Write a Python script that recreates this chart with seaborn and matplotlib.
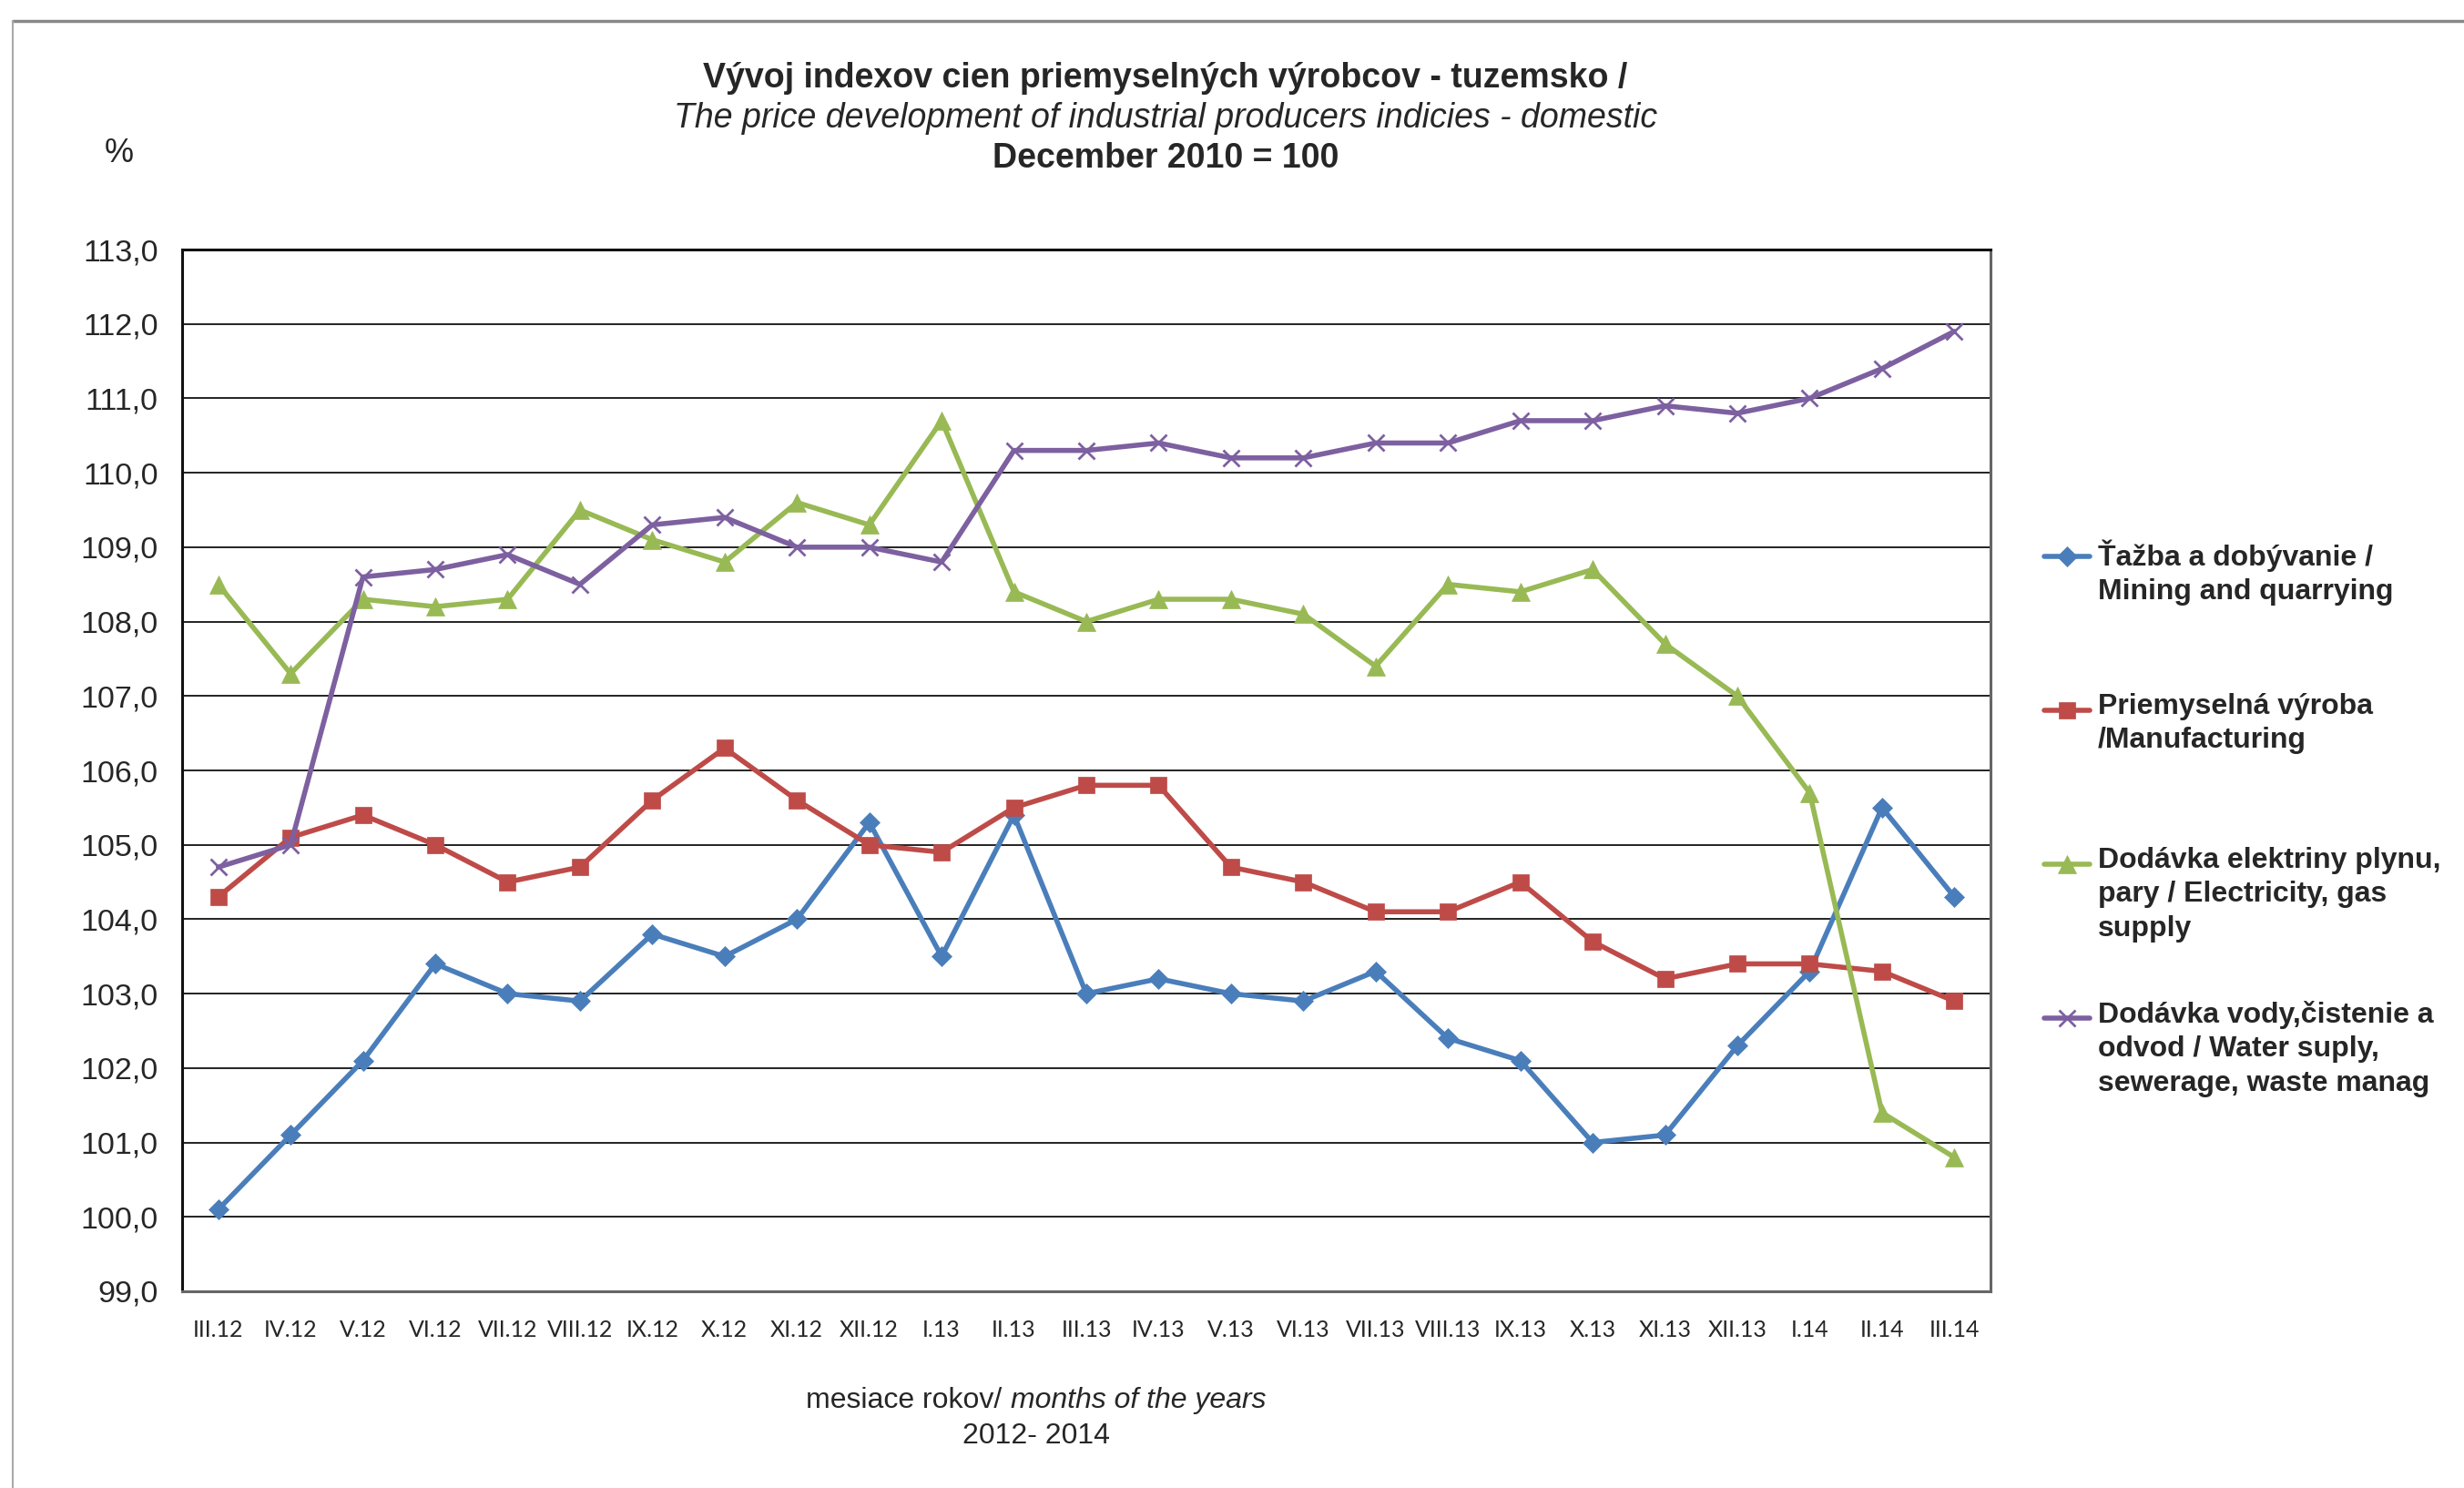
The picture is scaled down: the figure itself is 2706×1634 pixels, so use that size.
import numpy as np
import pandas as pd
import matplotlib
matplotlib.use("Agg")
import matplotlib.pyplot as plt
from matplotlib.lines import Line2D
import seaborn as sns

months = ["III.12", "IV.12", "V.12", "VI.12", "VII.12", "VIII.12", "IX.12", "X.12",
          "XI.12", "XII.12", "I.13", "II.13", "III.13", "IV.13", "V.13", "VI.13",
          "VII.13", "VIII.13", "IX.13", "X.13", "XI.13", "XII.13", "I.14", "II.14", "III.14"]

mining = [100.1, 101.1, 102.1, 103.4, 103.0, 102.9, 103.8, 103.5, 104.0, 105.3, 103.5, 105.4,
          103.0, 103.2, 103.0, 102.9, 103.3, 102.4, 102.1, 101.0, 101.1, 102.3, 103.3, 105.5, 104.3]
manufacturing = [104.3, 105.1, 105.4, 105.0, 104.5, 104.7, 105.6, 106.3, 105.6, 105.0, 104.9, 105.5,
                 105.8, 105.8, 104.7, 104.5, 104.1, 104.1, 104.5, 103.7, 103.2, 103.4, 103.4, 103.3, 102.9]
electricity = [108.5, 107.3, 108.3, 108.2, 108.3, 109.5, 109.1, 108.8, 109.6, 109.3, 110.7, 108.4,
               108.0, 108.3, 108.3, 108.1, 107.4, 108.5, 108.4, 108.7, 107.7, 107.0, 105.7, 101.4, 100.8]
water = [104.7, 105.0, 108.6, 108.7, 108.9, 108.5, 109.3, 109.4, 109.0, 109.0, 108.8, 110.3,
         110.3, 110.4, 110.2, 110.2, 110.4, 110.4, 110.7, 110.7, 110.9, 110.8, 111.0, 111.4, 111.9]

series_names = [
    "Ťažba a dobývanie /\nMining and quarrying",
    "Priemyselná výroba\n/Manufacturing",
    "Dodávka elektriny plynu,\npary / Electricity, gas\nsupply",
    "Dodávka vody,čistenie a\nodvod / Water suply,\nsewerage, waste manag",
]
series_values = [mining, manufacturing, electricity, water]
colors = ["#4A7EBB", "#BE4B48", "#98B954", "#7D60A0"]
markers = ["D", "s", "^", "x"]
msizes = [11, 13, 14, 13]

title1 = "Vývoj indexov cien priemyselných výrobcov - tuzemsko /"
title2 = "The price development of industrial producers indicies - domestic"
title3 = "December 2010 = 100"
xlabel1 = "mesiace rokov/"
xlabel2 = "months of the years"
xlabel3 = "2012- 2014"

sns.set_theme(style="white")
plt.rcParams["font.family"] = ["Liberation Sans", "DejaVu Sans"]

W, H = 2706, 1634
fig = plt.figure(figsize=(W / 100, H / 100), dpi=100)
ax = fig.add_axes([200 / W, 1 - 1418 / H, (2186 - 200) / W, (1418 - 274) / H])

rows = []
for name, vals in zip(series_names, series_values):
    for i, v in enumerate(vals):
        rows.append({"idx": i, "value": v, "series": name})
df = pd.DataFrame(rows)

for name, col, mk, ms in zip(series_names, colors, markers, msizes):
    sub = df[df["series"] == name]
    sns.lineplot(data=sub, x="idx", y="value", ax=ax, color=col, linewidth=4.0,
                 marker=mk, markersize=ms, markeredgecolor=col,
                 markeredgewidth=2.0 if mk == "x" else 0.5, legend=False)

ax.set_xlim(-0.5, len(months) - 0.5)
ax.set_ylim(99, 113)
ax.set_yticks(np.arange(99, 114, 1))
ax.set_yticklabels([f"{v:.1f}".replace(".", ",") for v in np.arange(99, 114, 1)], fontsize=24.5)
ax.set_xticks(range(len(months)))
ax.set_xticklabels(months, fontsize=18, family=["Lato", "DejaVu Sans"])
ax.set_xticks(np.arange(-0.5, len(months), 1), minor=True)
ax.tick_params(axis="x", which="major", length=0, pad=22)
ax.tick_params(axis="x", which="minor", length=9, width=1.2, color="#808080", direction="out")
ax.tick_params(axis="y", length=0, pad=19)
ax.set_xlabel("")
ax.set_ylabel("")
ax.grid(axis="y", color="#222222", linewidth=1.4)
ax.grid(axis="x", visible=False)
ax.set_axisbelow(True)
for s in ["left", "top"]:
    ax.spines[s].set_color("#111111")
    ax.spines[s].set_linewidth(2.2)
for s in ["bottom", "right"]:
    ax.spines[s].set_color("#666666")
    ax.spines[s].set_linewidth(2.2)

# titles
fig.text(1280 / W, 1 - 86 / H, title1, ha="center", va="center", fontsize=27, fontweight="bold")
fig.text(1280 / W, 1 - 130 / H, title2, ha="center", va="center", fontsize=27, style="italic")
fig.text(1280 / W, 1 - 174 / H, title3, ha="center", va="center", fontsize=27, fontweight="bold")
fig.text(131 / W, 1 - 168 / H, "%", ha="center", va="center", fontsize=26)

# x axis label
fig.text(1100 / W, 1 - 1538 / H, xlabel1, ha="right", va="center", fontsize=23)
fig.text(1110 / W, 1 - 1538 / H, xlabel2, ha="left", va="center", fontsize=23, style="italic")
fig.text(1138 / W, 1 - 1577 / H, xlabel3, ha="center", va="center", fontsize=23)

# legend (manual placement)
leg_y = [611, 780, 949, 1118]
for name, col, mk, ms, y in zip(series_names, colors, markers, msizes, leg_y):
    yf = 1 - y / H
    fig.add_artist(Line2D([2245 / W, 2295 / W], [yf, yf], transform=fig.transFigure,
                          color=col, linewidth=4.0))
    fig.add_artist(Line2D([2270 / W], [yf], transform=fig.transFigure, color=col,
                          marker=mk, markersize=ms, markeredgecolor=col,
                          markeredgewidth=2.0 if mk == "x" else 0.5, linestyle="none"))
    fig.text(2304 / W, 1 - (y - 19) / H, name, ha="left", va="top", fontsize=23,
             fontweight="bold", linespacing=1.32)

# outer frame lines
fig.add_artist(Line2D([14 / W, 1.0], [1 - 23 / H, 1 - 23 / H], transform=fig.transFigure,
                      color="#888888", linewidth=2.5))
fig.add_artist(Line2D([14 / W, 14 / W], [0, 1 - 23 / H], transform=fig.transFigure,
                      color="#aaaaaa", linewidth=1.5))

fig.savefig("out.png", dpi=100, facecolor="white")
